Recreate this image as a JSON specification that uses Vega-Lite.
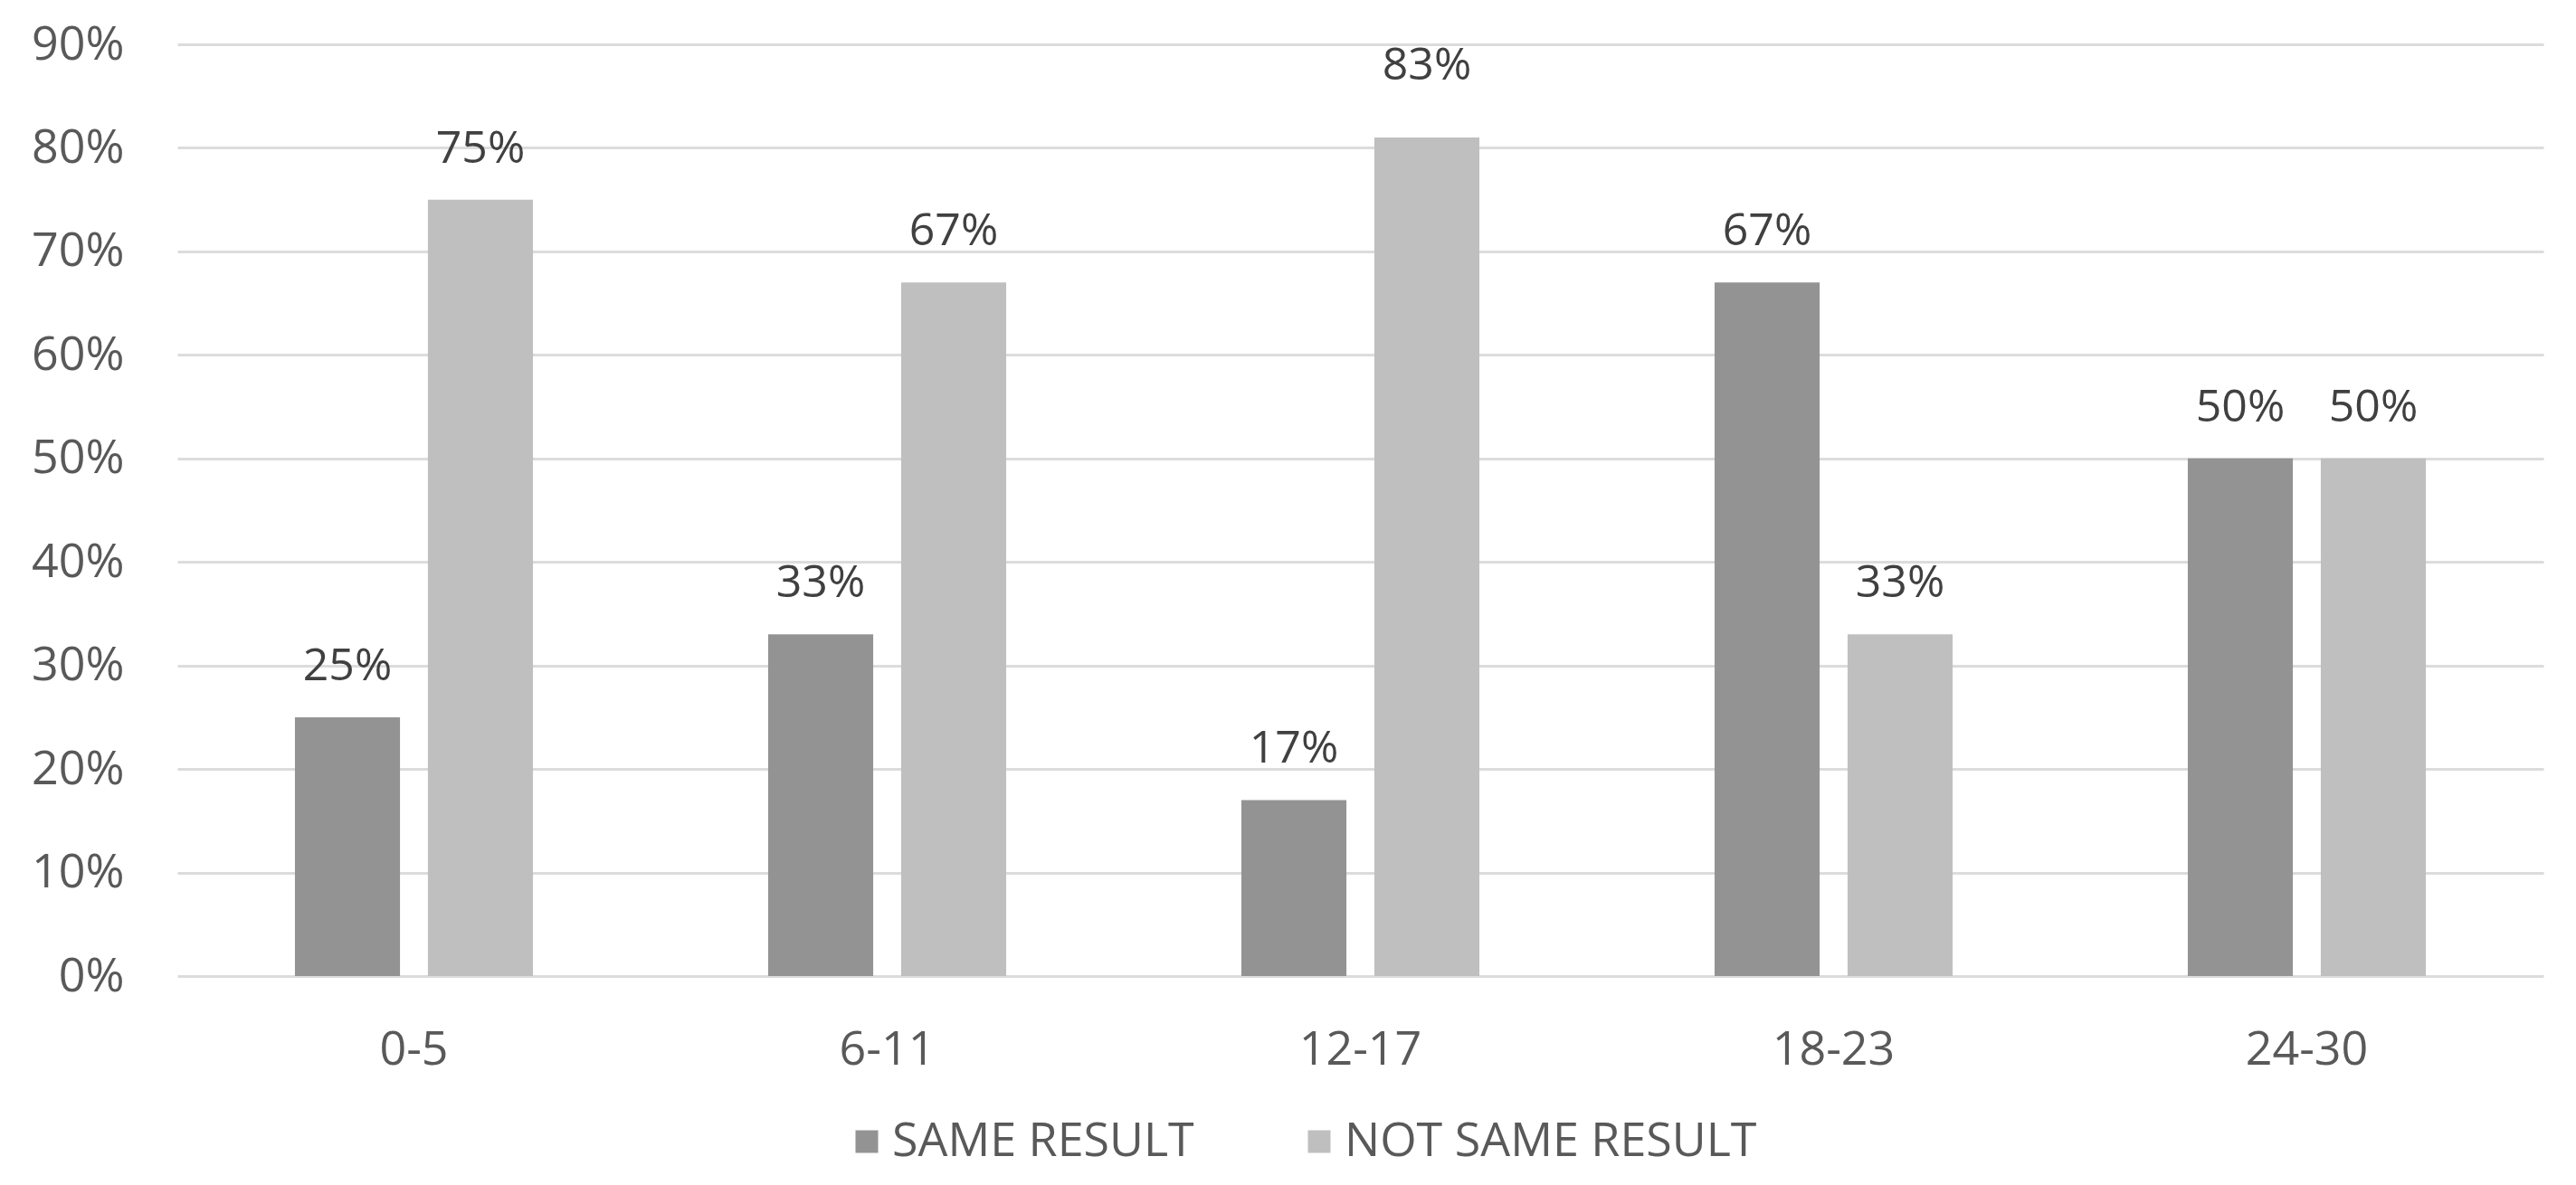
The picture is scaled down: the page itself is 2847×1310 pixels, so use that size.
{
  "$schema": "https://vega.github.io/schema/vega-lite/v6.json",
  "autosize": {"type": "none"},
  "width": 2615,
  "height": 1030,
  "padding": {"left": 196, "top": 49, "right": 36, "bottom": 231},
  "background": "white",
  "data": {
    "values": [
      {"age": "0-5", "series": "SAME RESULT", "value": 0.25, "label": 0.25},
      {"age": "0-5", "series": "NOT SAME RESULT", "value": 0.75, "label": 0.75},
      {"age": "6-11", "series": "SAME RESULT", "value": 0.33, "label": 0.33},
      {"age": "6-11", "series": "NOT SAME RESULT", "value": 0.67, "label": 0.67},
      {"age": "12-17", "series": "SAME RESULT", "value": 0.17, "label": 0.17},
      {"age": "12-17", "series": "NOT SAME RESULT", "value": 0.81, "label": 0.83},
      {"age": "18-23", "series": "SAME RESULT", "value": 0.67, "label": 0.67},
      {"age": "18-23", "series": "NOT SAME RESULT", "value": 0.33, "label": 0.33},
      {"age": "24-30", "series": "SAME RESULT", "value": 0.50, "label": 0.50},
      {"age": "24-30", "series": "NOT SAME RESULT", "value": 0.50, "label": 0.50}
    ]
  },
  "encoding": {
    "x": {
      "field": "age", "type": "nominal", "sort": null,
      "scale": {"paddingInner": 0.497, "paddingOuter": 0.2485},
      "axis": {"title": null, "labelAngle": 0, "domain": false, "ticks": false, "labelPadding": 56, "labelFontSize": 52, "labelFont": "Open Sans", "labelColor": "#595959", "grid": false}
    },
    "xOffset": {
      "field": "series", "type": "nominal", "sort": ["SAME RESULT", "NOT SAME RESULT"],
      "scale": {"paddingInner": 0.21, "paddingOuter": 0}
    }
  },
  "layer": [
    {
      "mark": {"type": "bar"},
      "encoding": {
        "y": {
          "field": "value", "type": "quantitative",
          "scale": {"domain": [0, 0.9], "nice": false},
          "axis": {"title": null, "format": ".0%", "values": [0, 0.1, 0.2, 0.3, 0.4, 0.5, 0.6, 0.7, 0.8, 0.9], "domain": false, "ticks": false, "labelPadding": 59, "labelFontSize": 52, "labelFont": "Open Sans", "labelColor": "#595959", "gridColor": "#dcdcdc", "gridWidth": 3}
        },
        "color": {
          "field": "series", "type": "nominal",
          "sort": ["SAME RESULT", "NOT SAME RESULT"],
          "scale": {"domain": ["SAME RESULT", "NOT SAME RESULT"], "range": ["#939393", "#bfbfbf"]},
          "legend": {
            "title": null, "orient": "none", "direction": "horizontal",
            "legendX": 736, "legendY": 1187,
            "symbolType": "square", "symbolSize": 625, "symbolStrokeWidth": 0,
            "labelFontSize": 52, "labelFont": "Open Sans", "labelColor": "#595959",
            "labelLimit": 2000,
            "labelOffset": 2, "columnPadding": 112, "padding": 0
          }
        }
      }
    },
    {
      "mark": {"type": "text", "baseline": "alphabetic", "dy": -41, "fontSize": 50, "font": "Open Sans", "color": "#404040"},
      "encoding": {
        "y": {"field": "label", "type": "quantitative"},
        "text": {"field": "label", "type": "quantitative", "format": ".0%"}
      }
    }
  ],
  "config": {"view": {"stroke": null}}
}
